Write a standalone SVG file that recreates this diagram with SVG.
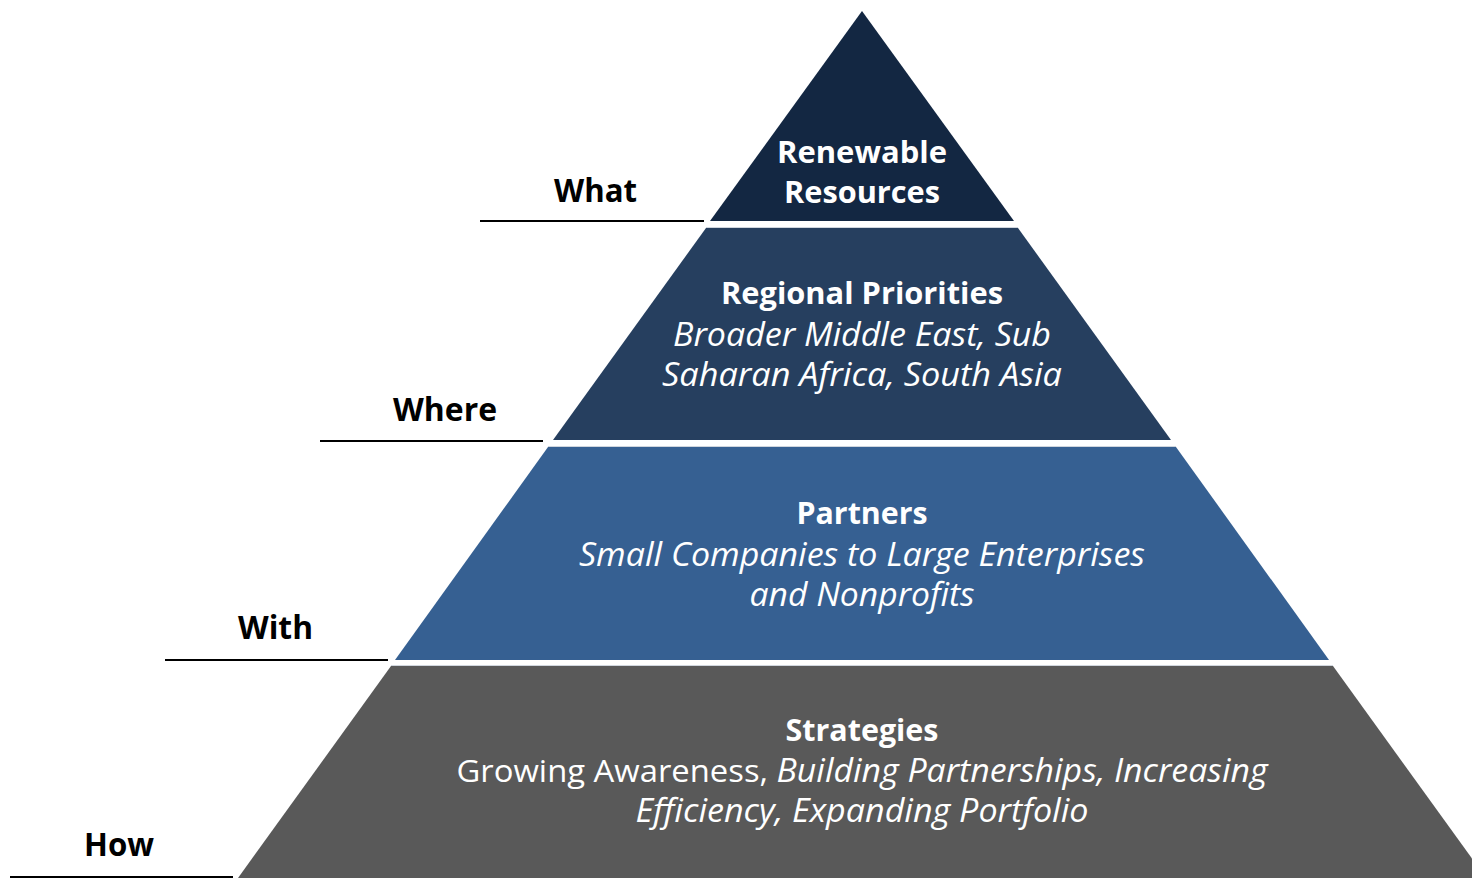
<svg xmlns="http://www.w3.org/2000/svg" width="1472" height="878" viewBox="0 0 1472 878">
  <style>
    .t { font-family: "Open Sans", "Liberation Sans", sans-serif; fill: #ffffff; text-anchor: middle; font-size: 31px; }
    .b { font-weight: 700; }
    .i { font-style: italic; font-size: 32px; }
    .lbl { font-family: "Open Sans", "Liberation Sans", sans-serif; font-weight: 700; font-size: 32px; fill: #000000; text-anchor: middle; }
    .rule { stroke: #000000; stroke-width: 2; fill: none; }
    .edge { stroke: #d0d6de; stroke-width: 1; }
  </style>
  <rect width="1472" height="878" fill="#ffffff"/>

  <!-- pyramid tiers, apex at (862,11) -->
  <g id="tier-what">
    <polygon points="862,11 1014,221 710,221" fill="#132742"/>
    <text class="t b" x="862" y="163" textLength="170" lengthAdjust="spacingAndGlyphs">Renewable</text>
    <text class="t b" x="862" y="203" textLength="156" lengthAdjust="spacingAndGlyphs">Resources</text>
  </g>
  <g id="tier-where">
    <polygon points="706,228 1018,228 1171,440 553,440" fill="#263f5f"/>
    <line class="edge" x1="706" y1="227.5" x2="1018" y2="227.5"/>
    <text class="t b" x="862" y="304" textLength="282" lengthAdjust="spacingAndGlyphs">Regional Priorities</text>
    <text class="t i" x="862" y="345.5" textLength="378" lengthAdjust="spacingAndGlyphs">Broader Middle East, Sub</text>
    <text class="t i" x="862" y="385.5" textLength="400" lengthAdjust="spacingAndGlyphs">Saharan Africa, South Asia</text>
  </g>
  <g id="tier-with">
    <polygon points="548,447 1176,447 1329,660 395,660" fill="#366092"/>
    <line class="edge" x1="548" y1="446.5" x2="1176" y2="446.5"/>
    <text class="t b" x="862" y="524" textLength="131" lengthAdjust="spacingAndGlyphs">Partners</text>
    <text class="t i" x="862" y="565.5" textLength="566" lengthAdjust="spacingAndGlyphs">Small Companies to Large Enterprises</text>
    <text class="t i" x="862" y="605.5" textLength="225" lengthAdjust="spacingAndGlyphs">and Nonprofits</text>
  </g>
  <g id="tier-how">
    <polygon points="391,666 1333,666 1486,878 238,878" fill="#595959"/>
    <line class="edge" x1="391" y1="665.5" x2="1333" y2="665.5" stroke="#bdbdbd"/>
    <text class="t b" x="862" y="741" textLength="153" lengthAdjust="spacingAndGlyphs">Strategies</text>
    <text class="t" x="862" y="781.5" font-size="32" textLength="811" lengthAdjust="spacingAndGlyphs">Growing Awareness, <tspan class="i">Building Partnerships, Increasing</tspan></text>
    <text class="t i" x="862" y="822" textLength="453" lengthAdjust="spacingAndGlyphs">Efficiency, Expanding Portfolio</text>
  </g>

  <!-- level labels with underline rules -->
  <g id="connectors">
    <line class="rule" x1="480" y1="221" x2="704" y2="221"/>
    <line class="rule" x1="320" y1="441" x2="543" y2="441"/>
    <line class="rule" x1="165" y1="660" x2="388" y2="660"/>
    <line class="rule" x1="10" y1="877" x2="233" y2="877"/>
  </g>
  <g id="label-what"><text class="lbl" x="595.5" y="202" textLength="83" lengthAdjust="spacingAndGlyphs">What</text></g>
  <g id="label-where"><text class="lbl" x="445" y="421" textLength="104" lengthAdjust="spacingAndGlyphs">Where</text></g>
  <g id="label-with"><text class="lbl" x="275.5" y="639" textLength="75" lengthAdjust="spacingAndGlyphs">With</text></g>
  <g id="label-how"><text class="lbl" x="119" y="856" textLength="70" lengthAdjust="spacingAndGlyphs">How</text></g>
</svg>
